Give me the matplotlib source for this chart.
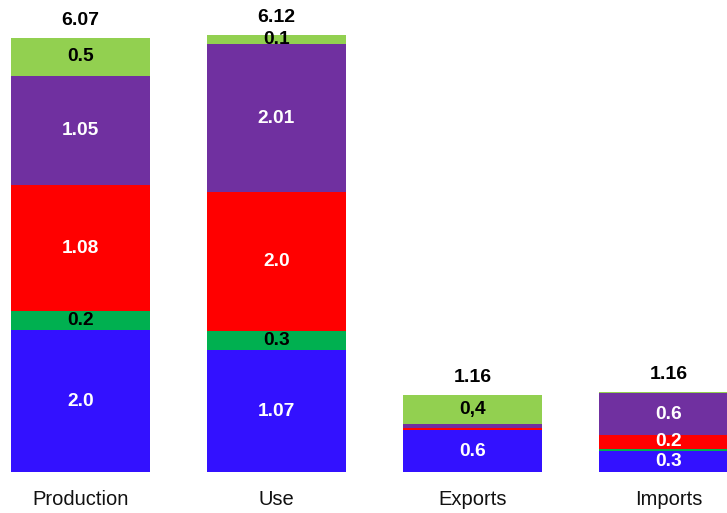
import matplotlib
matplotlib.use("Agg")
import matplotlib.pyplot as plt
import numpy as np

plt.rcParams['font.family'] = ['Liberation Sans', 'DejaVu Sans']

categories = ["Production", "Use", "Exports", "Imports"]

# segment heights (bottom to top)
blue_vals = [1.99, 1.71, 0.59, 0.30]
green_vals = [0.26, 0.26, 0.00, 0.03]
red_vals = [1.77, 1.95, 0.03, 0.19]
purple_vals = [1.53, 2.07, 0.06, 0.59]
lightgreen_vals = [0.52, 0.13, 0.40, 0.02]

# labels shown in the segments
blue_labels = ["2.0", "1.07", "0.6", "0.3"]
green_labels = ["0.2", "0.3", "", ""]
red_labels = ["1.08", "2.0", "", "0.2"]
purple_labels = ["1.05", "2.01", "", "0.6"]
lightgreen_labels = ["0.5", "0.1", "0,4", ""]
total_labels = ["6.07", "6.12", "1.16", "1.16"]

series = [
    (blue_vals, blue_labels, "#3311FF", "white"),
    (green_vals, green_labels, "#00B050", "black"),
    (red_vals, red_labels, "#FF0000", "white"),
    (purple_vals, purple_labels, "#7030A0", "white"),
    (lightgreen_vals, lightgreen_labels, "#92D050", "black"),
]

fig = plt.figure(figsize=(7.27, 5.13), dpi=100)
ax = fig.add_axes([0, 0, 1, 1])

x = np.arange(len(categories))
width = 0.714
bottom = np.zeros(len(categories))
for vals, labels, color, tcolor in series:
    vals = np.array(vals)
    ax.bar(x, vals, width, bottom=bottom, color=color, edgecolor=color, linewidth=0)
    for i, (v, lab) in enumerate(zip(vals, labels)):
        if lab:
            ax.text(x[i], bottom[i] + v / 2, lab, ha='center', va='center',
                    color=tcolor, fontsize=13.8, fontweight='bold')
    bottom = bottom + vals

for i, lab in enumerate(total_labels):
    ax.annotate(lab, (x[i], bottom[i]), xytext=(0, 12.5), textcoords='offset points',
                ha='center', va='center', fontsize=14, fontweight='bold', color='black')

for i, cat in enumerate(categories):
    ax.text(x[i], -0.387, cat, ha='center', va='center', fontsize=14.5, color='#111111')

ax.set_xlim(-0.4107, 3.2985)
ax.set_ylim(-0.569, 6.606)
ax.axis('off')

fig.savefig("out.png", dpi=100)
